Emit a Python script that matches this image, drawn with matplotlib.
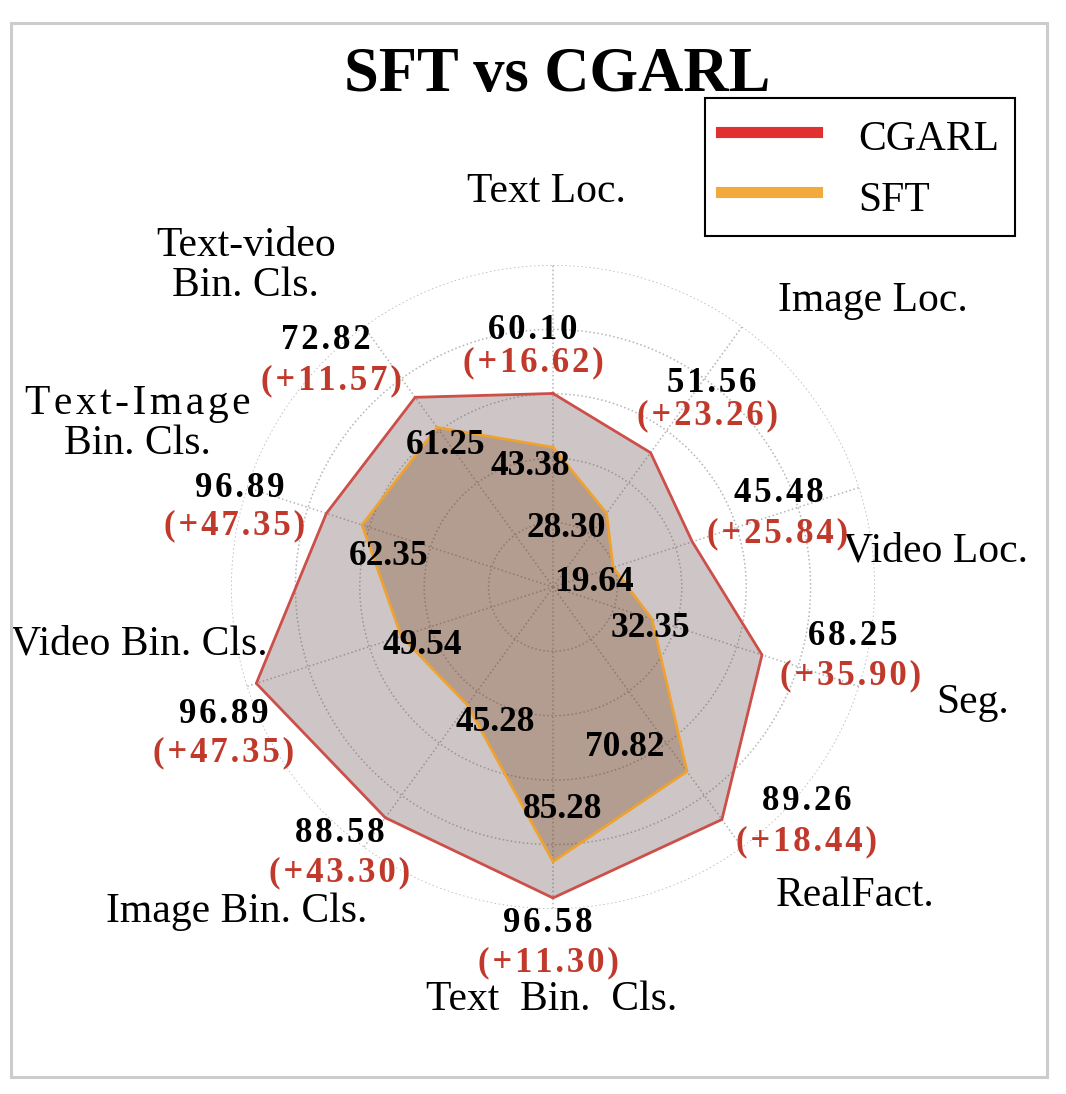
import numpy as np
import matplotlib
matplotlib.use('Agg')
import matplotlib.pyplot as plt
from matplotlib.lines import Line2D
from matplotlib.patches import Rectangle

plt.rcParams['font.family'] = ['Liberation Serif', 'DejaVu Serif']

# data (clockwise from the top)
categories = ['Text Loc.', 'Image Loc.', 'Video Loc.', 'Seg.', 'RealFact.',
              'Text Bin. Cls.', 'Image Bin. Cls.', 'Video Bin. Cls.',
              'Text-Image\nBin. Cls.', 'Text-video\nBin. Cls.']
cgarl = [60.10, 51.56, 45.48, 68.25, 89.26, 96.58, 88.58, 96.89, 74.0, 72.82]
sft = [43.38, 28.30, 19.64, 32.35, 70.82, 85.28, 45.28, 49.54, 62.35, 61.25]
# annotation text as printed on the figure
cgarl_txt = ['60.10', '51.56', '45.48', '68.25', '89.26',
             '96.58', '88.58', '96.89', '96.89', '72.82']
gain_txt = ['(+16.62)', '(+23.26)', '(+25.84)', '(+35.90)', '(+18.44)',
            '(+11.30)', '(+43.30)', '(+47.35)', '(+47.35)', '(+11.57)']
sft_txt = ['43.38', '28.30', '19.64', '32.35', '70.82',
           '85.28', '45.28', '49.54', '62.35', '61.25']

# label offsets in pixels (x right, y down) from the marked point
val_off = [(-20, -63), (61, -69), (87, -48), (91, -18), (85, -18),
           (-5, 26), (-46, 16), (-33, 31), (-87, -25), (-89, -57)]
gain_off = [(-20, -31), (57, -37), (85, -8), (89, 21), (85, 22),
            (-5, 65), (-46, 55), (-33, 69), (-92, 12), (-84, -16)]
sft_off = [(-23, 19), (-40, 15), (-19, 15), (-2, 9), (-62, -24),
           (10, -52), (28, 18), (21, 9), (27, 32), (8, 18)]
cat_off = [(-7, -73), (131, -26), (76, 64), (113, 16), (113, 48),
           (-1, 91), (-127, 64), (-107, -42), (-109, -64), (-118, -61)]


def spaced(s):
    # the original text is set with a little letter spacing
    return '\u200a'.join(s)


n = len(categories)
angles = np.arange(n) * 2 * np.pi / n
ang_c = np.append(angles, angles[0])
cgarl_c = np.append(cgarl, cgarl[0])
sft_c = np.append(sft, sft[0])

fig = plt.figure(figsize=(10.66, 10.94), dpi=100)
ax = fig.add_axes([0.2167, 0.1691, 0.6041, 0.5887], projection='polar')
ax.set_theta_offset(np.pi / 2)
ax.set_theta_direction(-1)
ax.set_ylim(0, 100)
ax.set_rgrids([20, 40, 60, 80, 100])
ax.set_yticklabels([])
ax.set_xticks(angles)
ax.set_xticklabels([])
ax.tick_params(length=0)
ax.grid(color='#b5b5b5', linestyle=':', linewidth=1.1)
ax.spines['polar'].set_visible(False)

ax.fill(ang_c, cgarl_c, color=(95/255, 68/255, 68/255), alpha=0.3, zorder=2)
ax.plot(ang_c, cgarl_c, color='#cd4f4a', lw=2, zorder=3)
ax.fill(ang_c, sft_c, color=(117/255, 62/255, 19/255), alpha=0.3, zorder=4)
ax.plot(ang_c, sft_c, color='#eea232', lw=2, zorder=5)

for i in range(n):
    ax.annotate(spaced(cgarl_txt[i]), xy=(angles[i], cgarl[i]),
                xytext=(val_off[i][0], -val_off[i][1]), textcoords='offset pixels',
                ha='center', va='center', fontsize=25, fontweight='bold',
                color='black', annotation_clip=False, zorder=6)
    ax.annotate(spaced(gain_txt[i]), xy=(angles[i], cgarl[i]),
                xytext=(gain_off[i][0], -gain_off[i][1]), textcoords='offset pixels',
                ha='center', va='center', fontsize=25, fontweight='bold',
                color='#c0392b', annotation_clip=False, zorder=6)
    ax.annotate(sft_txt[i], xy=(angles[i], sft[i]),
                xytext=(sft_off[i][0], -sft_off[i][1]), textcoords='offset pixels',
                ha='center', va='center', fontsize=25.5, fontweight='bold',
                color='black', annotation_clip=False, zorder=6)
    label = categories[i]
    if label.startswith('Text-Image'):
        first, second = label.split('\n')
        label = spaced(first) + '\n' + second
    elif label == 'Text Bin. Cls.':
        label = label.replace(' ', '  ')
    ax.annotate(label, xy=(angles[i], 100),
                xytext=(cat_off[i][0], -cat_off[i][1]), textcoords='offset pixels',
                ha='center', va='center', fontsize=30, color='black',
                linespacing=1.05, annotation_clip=False)

fig.text(557 / 1066, 1 - 76 / 1094, 'SFT vs CGARL', ha='center', va='center',
         fontsize=45, fontweight='bold')

handles = [Line2D([], [], color='#e03030', lw=8),
           Line2D([], [], color='#f2aa3c', lw=8)]
leg = fig.legend(handles, ['CGARL', 'SFT'], loc='upper right',
                 bbox_to_anchor=(1015 / 1066, 1 - 98 / 1094), fontsize=30,
                 fancybox=False, edgecolor='black', framealpha=1,
                 handlelength=2.3, handleheight=1.3, handletextpad=1.0,
                 labelspacing=0.35, borderpad=0.38, borderaxespad=0)
leg.get_frame().set_linewidth(1.5)

fig.add_artist(Rectangle((11 / 1066, 1 - 1077 / 1094), 1036 / 1066, 1054 / 1094,
                         transform=fig.transFigure, fill=False,
                         edgecolor='#cccccc', lw=2.2))

fig.savefig('out.png', dpi=100)
